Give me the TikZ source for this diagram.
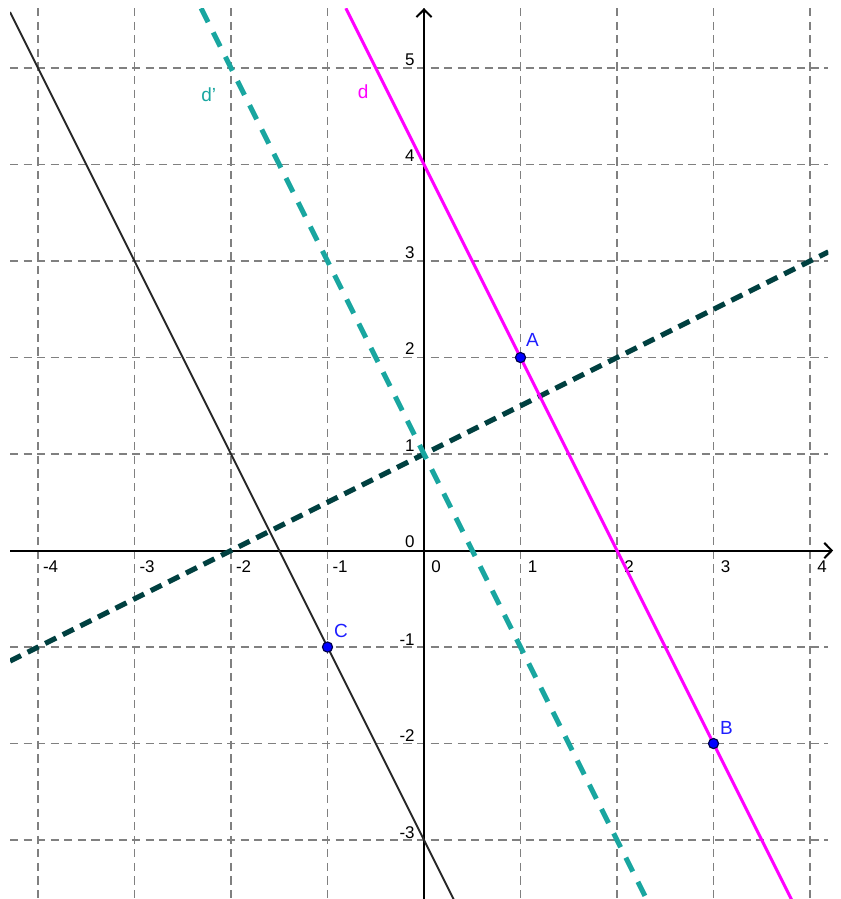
\documentclass[tikz,border=0pt]{standalone}
\usepackage{fontspec}
\setmainfont{Liberation Sans}
\usetikzlibrary{arrows.meta}
\definecolor{tealc}{RGB}{25,166,160}
\definecolor{darkg}{RGB}{0,64,64}
\definecolor{gridg}{RGB}{128,128,128}
\definecolor{ptblue}{RGB}{0,0,255}
\definecolor{lblblue}{RGB}{30,30,255}
\definecolor{magc}{RGB}{255,0,255}
\tikzset{
  gridline/.style={draw=gridg, line width=0.45pt, dash pattern=on 2.4pt off 1.6pt},
  axisline/.style={draw=black, line width=0.6pt, -{Straight Barb[length=2.2pt,width=4.5pt,line width=0.6pt]}},
  ticklbl/.style={inner sep=0pt, font=\fontsize{5}{6}\selectfont},
  ptlbl/.style={inner sep=0pt, text=lblblue, font=\fontsize{5.6}{6.5}\selectfont},
  pt/.style={circle, fill=ptblue, draw=black!70!blue, line width=0.35pt, inner sep=0pt, minimum size=0.105cm},
  lineD/.style={draw=magc, line width=0.9pt},
  lineDp/.style={draw=tealc, line width=1.5pt, dash pattern=on 4.6pt off 3.4pt},
  linePerp/.style={draw=darkg, line width=1.5pt, dash pattern=on 3.6pt off 2.2pt},
  lineC/.style={draw=black!85, line width=0.55pt},
}
\begin{document}
\begin{tikzpicture}
\useasboundingbox (-4.394,-3.611) rectangle (4.321,5.705);
% grid
\foreach \x in {-4,...,4} \draw[gridline] (\x,5.62) -- (\x,-3.62);
\foreach \y in {-3,...,5} \draw[gridline] (-4.29,\y) -- (4.19,\y);
% axes
\coordinate (xa0) at (-4.29,0);
\coordinate (xa1) at (4.24,0);
\coordinate (ya0) at (0,-3.62);
\coordinate (ya1) at (0,5.62);
\draw[axisline] (xa0) -- (xa1);
\draw[axisline] (ya0) -- (ya1);
% tick labels x
\foreach \x in {-4,...,-1} \node[ticklbl, anchor=east] (tx\x) at (\x+0.215,-0.17) {-\the\numexpr-\x\relax};
\foreach \x in {0,...,4} \node[ticklbl] (tx\x) at (\x+0.125,-0.17) {\x};
% tick labels y
\foreach \y in {-3,...,-1} \node[ticklbl, anchor=east] (ty\y) at (-0.09,\y+0.08) {-\the\numexpr-\y\relax};
\foreach \y in {0,...,5} \node[ticklbl, anchor=east] (ty\y) at (-0.09,\y+0.09) {\y};
% lines
\begin{scope}
\clip (-4.29,-3.62) rectangle (4.19,5.62);
\coordinate (c1) at (-4.29,5.58);
\coordinate (c2) at (0.31,-3.62);
\draw[lineC] (c1) -- (c2);
\coordinate (p1) at (-4.29,-1.145);
\coordinate (p2) at (4.19,3.095);
\draw[linePerp] (p1) -- (p2);
\coordinate (e1) at (-2.31,5.62);
\coordinate (e2) at (2.31,-3.62);
\draw[lineDp] (e1) -- (e2);
\coordinate (d1) at (-0.81,5.62);
\coordinate (d2) at (3.81,-3.62);
\draw[lineD] (d1) -- (d2);
\end{scope}
% points
\node[pt] (A) at (1,2) {};
\node[pt] (B) at (3,-2) {};
\node[pt] (C) at (-1,-1) {};
\node[ptlbl] (lA) at (1.125,2.18) {A};
\node[ptlbl] (lB) at (3.135,-1.835) {B};
\node[ptlbl] (lC) at (-0.86,-0.835) {C};
% line labels
\node[ptlbl, text=tealc] (ldp) at (-2.23,4.72) {d'};
\node[ptlbl, text=magc] (ld) at (-0.63,4.75) {d};
\end{tikzpicture}
\end{document}
